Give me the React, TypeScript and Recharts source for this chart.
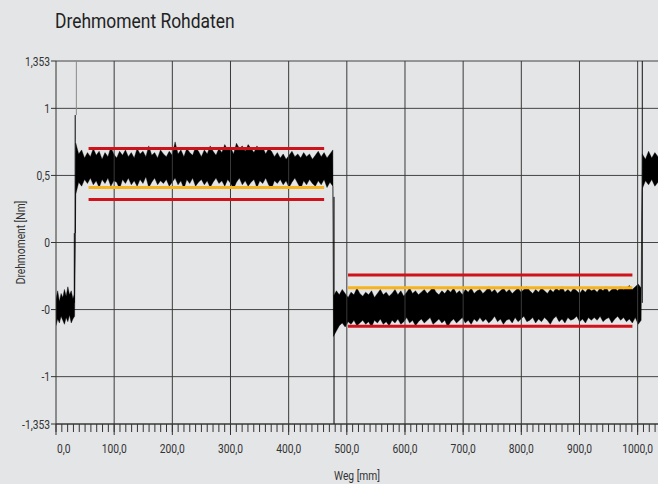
import React from 'react';
import {
  ComposedChart,
  Area,
  Line,
  XAxis,
  YAxis,
  CartesianGrid,
  ReferenceLine,
  Label,
} from 'recharts';

const FONT = 'Roboto, "Liberation Sans", sans-serif';
const SQUEEZE = 0.82;

// ---- axes ----
const xMajorTicks = [0, 100, 200, 300, 400, 500, 600, 700, 800, 900, 1000];
const xTickLabels = ['0,0', '100,0', '200,0', '300,0', '400,0', '500,0', '600,0', '700,0', '800,0', '900,0', '1000,0'];
const xMinorTicks = Array.from({ length: 104 }, (_, i) => i * 10);
const yTicks = [1.353, 1, 0.5, 0, -0.5, -1, -1.353];
const yTickLabels = ['1,353', '1', '0,5', '0', '-0', '-1', '-1,353'];

// ---- raw torque band (min / max envelope) ----
const seg1Range = [0, 32];
const seg1Hi = [-0.42, -0.36, -0.44, -0.38, -0.41, -0.35, -0.40, -0.33, -0.39, -0.36, -0.42, -0.38];
const seg1Lo = [-0.62, -0.57, -0.60, -0.55, -0.58, -0.61, -0.56, -0.59, -0.54, -0.60, -0.57, -0.55];

const seg2Range = [34, 476];
const seg2Hi = [
  0.74, 0.66, 0.69, 0.63, 0.67, 0.64, 0.70, 0.65, 0.68, 0.62,
  0.67, 0.64, 0.71, 0.66, 0.63, 0.68, 0.65, 0.69, 0.64, 0.67,
  0.63, 0.70, 0.66, 0.68, 0.64, 0.72, 0.65, 0.67, 0.63, 0.69,
  0.66, 0.64, 0.68, 0.65, 0.75, 0.66, 0.69, 0.64, 0.70, 0.67,
  0.65, 0.71, 0.68, 0.64, 0.69, 0.66, 0.72, 0.68, 0.65, 0.70,
  0.67, 0.73, 0.69, 0.71, 0.66, 0.74, 0.70, 0.72, 0.68, 0.73,
  0.70, 0.67, 0.72, 0.69, 0.71, 0.66, 0.70, 0.68, 0.64, 0.67,
  0.63, 0.66, 0.62, 0.65, 0.68, 0.64, 0.66, 0.63, 0.67, 0.64,
  0.66, 0.62, 0.65, 0.68, 0.64, 0.67, 0.63, 0.66, 0.69,
];
const seg2Lo = [
  0.36, 0.45, 0.42, 0.47, 0.44, 0.48, 0.43, 0.46, 0.41, 0.47,
  0.44, 0.48, 0.42, 0.46, 0.45, 0.40, 0.47, 0.44, 0.48, 0.43,
  0.46, 0.42, 0.47, 0.44, 0.49, 0.41, 0.45, 0.48, 0.43, 0.46,
  0.44, 0.47, 0.42, 0.45, 0.48, 0.43, 0.46, 0.40, 0.47, 0.44,
  0.48, 0.42, 0.45, 0.47, 0.43, 0.46, 0.41, 0.45, 0.48, 0.44,
  0.46, 0.42, 0.47, 0.44, 0.40, 0.45, 0.48, 0.43, 0.46, 0.42,
  0.45, 0.47, 0.41, 0.46, 0.44, 0.48, 0.43, 0.40, 0.46, 0.44,
  0.47, 0.43, 0.46, 0.41, 0.45, 0.48, 0.44, 0.40, 0.46, 0.43,
  0.47, 0.44, 0.42, 0.46, 0.43, 0.47, 0.41, 0.45, 0.42,
];

const seg3Range = [477, 1006];
const seg3Hi = [
  -0.40, -0.36, -0.39, -0.35, -0.38, -0.41, -0.37, -0.39, -0.34, -0.38,
  -0.40, -0.37, -0.39, -0.36, -0.41, -0.38, -0.35, -0.39, -0.37, -0.40,
  -0.38, -0.35, -0.39, -0.36, -0.40, -0.37, -0.34, -0.38, -0.36, -0.39,
  -0.37, -0.35, -0.38, -0.36, -0.33, -0.37, -0.39, -0.36, -0.38, -0.35,
  -0.37, -0.34, -0.38, -0.36, -0.39, -0.35, -0.37, -0.34, -0.38, -0.36,
  -0.35, -0.38, -0.36, -0.33, -0.37, -0.35, -0.38, -0.36, -0.34, -0.37,
  -0.35, -0.38, -0.36, -0.34, -0.37, -0.35, -0.33, -0.36, -0.38, -0.35,
  -0.37, -0.34, -0.36, -0.38, -0.35, -0.37, -0.34, -0.36, -0.33, -0.37,
  -0.35, -0.37, -0.34, -0.36, -0.38, -0.35, -0.37, -0.34, -0.36, -0.35,
  -0.37, -0.34, -0.36, -0.33, -0.37, -0.35, -0.34, -0.36, -0.33, -0.35,
  -0.34, -0.32, -0.35, -0.33, -0.31, -0.34,
];
const seg3Lo = [
  -0.70, -0.66, -0.62, -0.60, -0.63, -0.59, -0.61, -0.58, -0.62, -0.60,
  -0.58, -0.61, -0.59, -0.63, -0.58, -0.60, -0.57, -0.61, -0.59, -0.62,
  -0.58, -0.60, -0.57, -0.61, -0.59, -0.56, -0.60, -0.58, -0.62, -0.59,
  -0.57, -0.60, -0.58, -0.56, -0.61, -0.59, -0.57, -0.60, -0.58, -0.63,
  -0.59, -0.57, -0.60, -0.58, -0.56, -0.60, -0.58, -0.61, -0.57, -0.59,
  -0.56, -0.59, -0.57, -0.60, -0.58, -0.55, -0.59, -0.57, -0.61, -0.58,
  -0.57, -0.60, -0.56, -0.59, -0.57, -0.55, -0.59, -0.58, -0.56, -0.60,
  -0.57, -0.59, -0.56, -0.58, -0.61, -0.57, -0.55, -0.59, -0.57, -0.60,
  -0.56, -0.58, -0.57, -0.55, -0.59, -0.57, -0.60, -0.56, -0.58, -0.56,
  -0.58, -0.55, -0.59, -0.57, -0.56, -0.60, -0.57, -0.55, -0.58, -0.56,
  -0.59, -0.57, -0.60, -0.56, -0.61, -0.58,
];

const seg4Range = [1008, 1035];
const seg4Hi = [0.66, 0.62, 0.68, 0.63, 0.67, 0.64];
const seg4Lo = [0.40, 0.46, 0.43, 0.47, 0.42, 0.45];

// vertical jumps / spikes of the raw signal
const spikes = [
  { x: 31.5, from: -0.45, to: 0.07, color: '#000' },
  { x: 33, from: 0.07, to: 0.95, color: '#000' },
  { x: 35, from: 0.95, to: 1.353, color: '#8a8a8a' },
  { x: 478, from: 0.34, to: -1.353, color: '#000' },
  { x: 1008, from: -0.45, to: 1.353, color: '#111' },
];

// tolerance limits
const limits = [
  { from: 56, to: 461, value: 0.70, color: '#d0121b' },
  { from: 56, to: 461, value: 0.32, color: '#d0121b' },
  { from: 56, to: 461, value: 0.41, color: '#f6b31b' },
  { from: 502, to: 991, value: -0.242, color: '#d0121b' },
  { from: 502, to: 991, value: -0.625, color: '#d0121b' },
  { from: 502, to: 991, value: -0.337, color: '#f6b31b' },
];

function buildSeg(range: number[], hi: number[], lo: number[]) {
  const n = hi.length;
  const step = (range[1] - range[0]) / (n - 1);
  return hi.map((h, i) => ({ x: range[0] + i * step, band: [lo[i], h] }));
}

const bandData = [
  ...buildSeg(seg1Range, seg1Hi, seg1Lo),
  ...buildSeg(seg2Range, seg2Hi, seg2Lo),
  ...buildSeg(seg3Range, seg3Hi, seg3Lo),
  ...buildSeg(seg4Range, seg4Hi, seg4Lo),
];

const NarrowText = (p: {
  x: number;
  y: number;
  anchor: 'start' | 'middle' | 'end';
  rotate?: number;
  children: React.ReactNode;
}) => (
  <g transform={`translate(${p.x} ${p.y}) rotate(${p.rotate || 0}) scale(${SQUEEZE} 1)`}>
    <text x={0} y={0} textAnchor={p.anchor} fill="#333" fontSize={12.5} fontFamily={FONT}>
      {p.children}
    </text>
  </g>
);

const XTick = (props: any) => {
  const { x, y, payload } = props;
  const v = payload.value;
  const idx = xMajorTicks.indexOf(v);
  if (idx < 0) return <g />;
  return (
    <g>
      <line x1={x} x2={x} y1={y - 8} y2={y + 3} stroke="#333" strokeWidth={1} />
      <NarrowText x={v === 0 ? x + 1 : x} y={y + 21} anchor={v === 0 ? 'start' : 'middle'}>
        {xTickLabels[idx]}
      </NarrowText>
    </g>
  );
};

const YTick = (props: any) => {
  const { x, y, payload } = props;
  const idx = yTicks.indexOf(payload.value);
  return (
    <NarrowText x={x} y={y + 4.5} anchor="end">
      {idx >= 0 ? yTickLabels[idx] : ''}
    </NarrowText>
  );
};

const YLabel = (props: any) => {
  const vb = props.viewBox || {};
  const cy = (vb.y || 0) + (vb.height || 0) / 2;
  return (
    <NarrowText x={25} y={cy} anchor="middle" rotate={-90}>
      Drehmoment [Nm]
    </NarrowText>
  );
};

const XLabel = (props: any) => {
  const vb = props.viewBox || {};
  const cx = (vb.x || 0) + (vb.width || 0) / 2;
  return (
    <NarrowText x={cx} y={480} anchor="middle">
      Weg [mm]
    </NarrowText>
  );
};

export default function App() {
  return (
    <div
      style={{
        position: 'fixed',
        left: 0,
        top: 0,
        width: 658,
        height: 484,
        background: '#e4e5e7',
        overflow: 'hidden',
      }}
    >
      <div
        style={{
          position: 'absolute',
          left: 55,
          top: 11,
          fontFamily: FONT,
          fontSize: 21,
          lineHeight: '21px',
          color: '#222',
          whiteSpace: 'nowrap',
          transform: 'scaleX(0.83)',
          transformOrigin: 'left top',
        }}
      >
        Drehmoment Rohdaten
      </div>
      <ComposedChart
        width={658}
        height={484}
        data={bandData}
        margin={{ top: 61, right: 0, bottom: 0, left: 0 }}
      >
        <CartesianGrid vertical={false} stroke="#444" strokeWidth={1} />
        <XAxis
          dataKey="x"
          type="number"
          domain={[0, 1035]}
          allowDataOverflow
          ticks={xMinorTicks}
          interval={0}
          tickSize={8}
          tickMargin={0}
          height={60}
          tick={<XTick />}
          tickLine={{ stroke: '#333' }}
          axisLine={{ stroke: '#333' }}
        >
          <Label content={<XLabel />} />
        </XAxis>
        <YAxis
          type="number"
          domain={[-1.353, 1.353]}
          allowDataOverflow
          ticks={yTicks}
          interval={0}
          width={56}
          tickSize={5}
          tickMargin={1}
          tick={<YTick />}
          tickLine={{ stroke: '#333' }}
          axisLine={{ stroke: '#333' }}
        >
          <Label content={<YLabel />} />
        </YAxis>
        {xMajorTicks.slice(1).map((t) => (
          <ReferenceLine key={'g' + t} x={t} stroke="#3a3a3a" strokeWidth={1} />
        ))}
        {limits.map((l, i) => (
          <Line
            key={'l' + i}
            data={[
              { x: l.from, y: l.value },
              { x: l.to, y: l.value },
            ]}
            dataKey="y"
            stroke={l.color}
            strokeWidth={3}
            dot={false}
            activeDot={false}
            isAnimationActive={false}
          />
        ))}
        <Area
          dataKey="band"
          type="linear"
          stroke="#000"
          strokeWidth={0.4}
          fill="#000"
          fillOpacity={1}
          dot={false}
          activeDot={false}
          isAnimationActive={false}
        />
        {spikes.map((s, i) => (
          <ReferenceLine
            key={'s' + i}
            segment={[
              { x: s.x, y: s.from },
              { x: s.x, y: s.to },
            ]}
            stroke={s.color}
            strokeWidth={1}
          />
        ))}
      </ComposedChart>
    </div>
  );
}
